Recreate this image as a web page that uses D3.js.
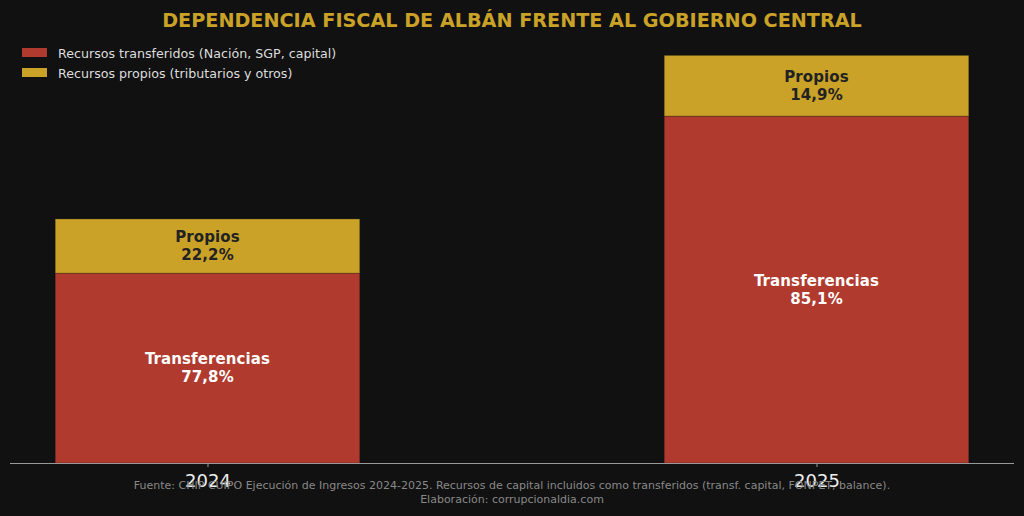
<!DOCTYPE html>
<html lang="es">
    <head>
        <meta charset="utf-8">
        <title>Dependencia fiscal de Albán</title>
        <script src="https://d3js.org/d3.v7.min.js"></script>
        <style type="text/css">
        body {
            margin: 0;
            background-color: #111111;
        }
        svg text {
            font-family: "DejaVu Sans", sans-serif;
        }
        .title {
            font-size: 19.2px;
            font-weight: bold;
            fill: #c9a227;
        }
        .legend {
            font-size: 12.65px;
            fill: #dddddd;
        }
        .barlabel {
            font-size: 15px;
            font-weight: bold;
        }
        .tick text {
            font-size: 18px;
            fill: #eeeeee;
        }
        .footer {
            font-size: 11px;
            fill: #888888;
        }
        </style>
    </head>
    <body>
    <div id="vis"></div>

    <script type="text/javascript">

        const width = 1024;
        const height = 516;

        // values in thousands of millions COP
        const years = ["2024", "2025"];
        const transferidos = [19.00, 34.72];
        const propios = [5.43, 6.08];

        const seriesNames = ["Recursos transferidos (Nación, SGP, capital)", "Recursos propios (tributarios y otros)"];
        const seriesShort = ["Transferencias", "Propios"];
        const colors = ["#b03a2e", "#c9a227"];
        const textColors = ["#ffffff", "#222222"];

        const titleText = "DEPENDENCIA FISCAL DE ALBÁN FRENTE AL GOBIERNO CENTRAL";
        const footerLines = [
            "Fuente: CHIP CUIPO Ejecución de Ingresos 2024-2025. Recursos de capital incluidos como transferidos (transf. capital, FONPET, balance).",
            "Elaboración: corrupcionaldia.com"
        ];

        const table = years.map((y, i) => ({year: y, transferidos: transferidos[i], propios: propios[i]}));
        const stacked = d3.stack().keys(["transferidos", "propios"])(table);

        const plotLeft = 10, plotRight = 1014, plotBottom = 463, plotTop = 35;

        const xScale = d3.scalePoint()
                         .domain(years)
                         .range([plotLeft, plotRight])
                         .padding(0.3243);
        const barWidth = xScale.step() * 0.5;

        const maxY = d3.max(table, d => d.transferidos + d.propios);
        const yScale = d3.scaleLinear()
                         .domain([0, maxY * 1.05])
                         .range([plotBottom, plotTop]);

        const svg = d3.select("#vis")
                      .append("svg")
                      .attr("width", width)
                      .attr("height", height);

        svg.append("rect")
           .attr("width", width)
           .attr("height", height)
           .attr("fill", "#111111");

        // bars
        const layers = svg.selectAll(".layer")
           .data(stacked)
           .enter()
           .append("g")
           .attr("class", "layer")
           .attr("fill", (d, i) => colors[i]);

        layers.selectAll("rect")
           .data(d => d)
           .enter()
           .append("rect")
           .attr("x", d => xScale(d.data.year) - barWidth / 2)
           .attr("y", d => yScale(d[1]))
           .attr("width", barWidth)
           .attr("height", d => yScale(d[0]) - yScale(d[1]))
           .attr("stroke", "#111111")
           .attr("stroke-opacity", 0.25)
           .attr("stroke-width", 1);

        // labels inside segments
        stacked.forEach((layer, k) => {
            layer.forEach(d => {
                const total = d.data.transferidos + d.data.propios;
                const pct = ((d[1] - d[0]) / total * 100).toFixed(1).replace(".", ",") + "%";
                const cy = yScale((d[0] + d[1]) / 2);
                const t = svg.append("text")
                   .attr("class", "barlabel")
                   .attr("text-anchor", "middle")
                   .attr("fill", textColors[k])
                   .attr("letter-spacing", "0.1px")
                   .attr("x", xScale(d.data.year));
                t.append("tspan")
                   .attr("x", xScale(d.data.year))
                   .attr("y", cy - 4)
                   .text(seriesShort[k]);
                t.append("tspan")
                   .attr("x", xScale(d.data.year))
                   .attr("y", cy + 14)
                   .text(pct);
            });
        });

        // x axis (labels sit low, over the source note, as in the original)
        const bottomAxis = d3.axisBottom(xScale).tickSize(4).tickPadding(6);
        const gx = svg.append("g")
           .attr("transform", "translate(0," + plotBottom + ")")
           .call(bottomAxis);
        gx.select(".domain")
           .attr("d", "M" + plotLeft + ",0.5H" + plotRight)
           .attr("stroke", "#999999");
        gx.selectAll(".tick line").attr("stroke", "#999999");
        gx.selectAll(".tick text").attr("dy", "0.75em");

        // title
        svg.append("text")
           .attr("class", "title")
           .attr("x", width / 2)
           .attr("y", 27)
           .attr("text-anchor", "middle")
           .text(titleText);

        // legend
        const legend = svg.selectAll(".legitem")
           .data(seriesNames)
           .enter()
           .append("g")
           .attr("class", "legitem")
           .attr("transform", (d, i) => "translate(22," + (48 + i * 20) + ")");
        legend.append("rect")
           .attr("width", 25)
           .attr("height", 9)
           .attr("fill", (d, i) => colors[i]);
        legend.append("text")
           .attr("class", "legend")
           .attr("x", 36)
           .attr("y", 9.5)
           .text(d => d);

        // footer
        svg.selectAll(".footer")
           .data(footerLines)
           .enter()
           .append("text")
           .attr("class", "footer")
           .attr("x", width / 2)
           .attr("y", (d, i) => 489 + i * 14)
           .attr("text-anchor", "middle")
           .text(d => d);

    </script>
    </body>
</html>
